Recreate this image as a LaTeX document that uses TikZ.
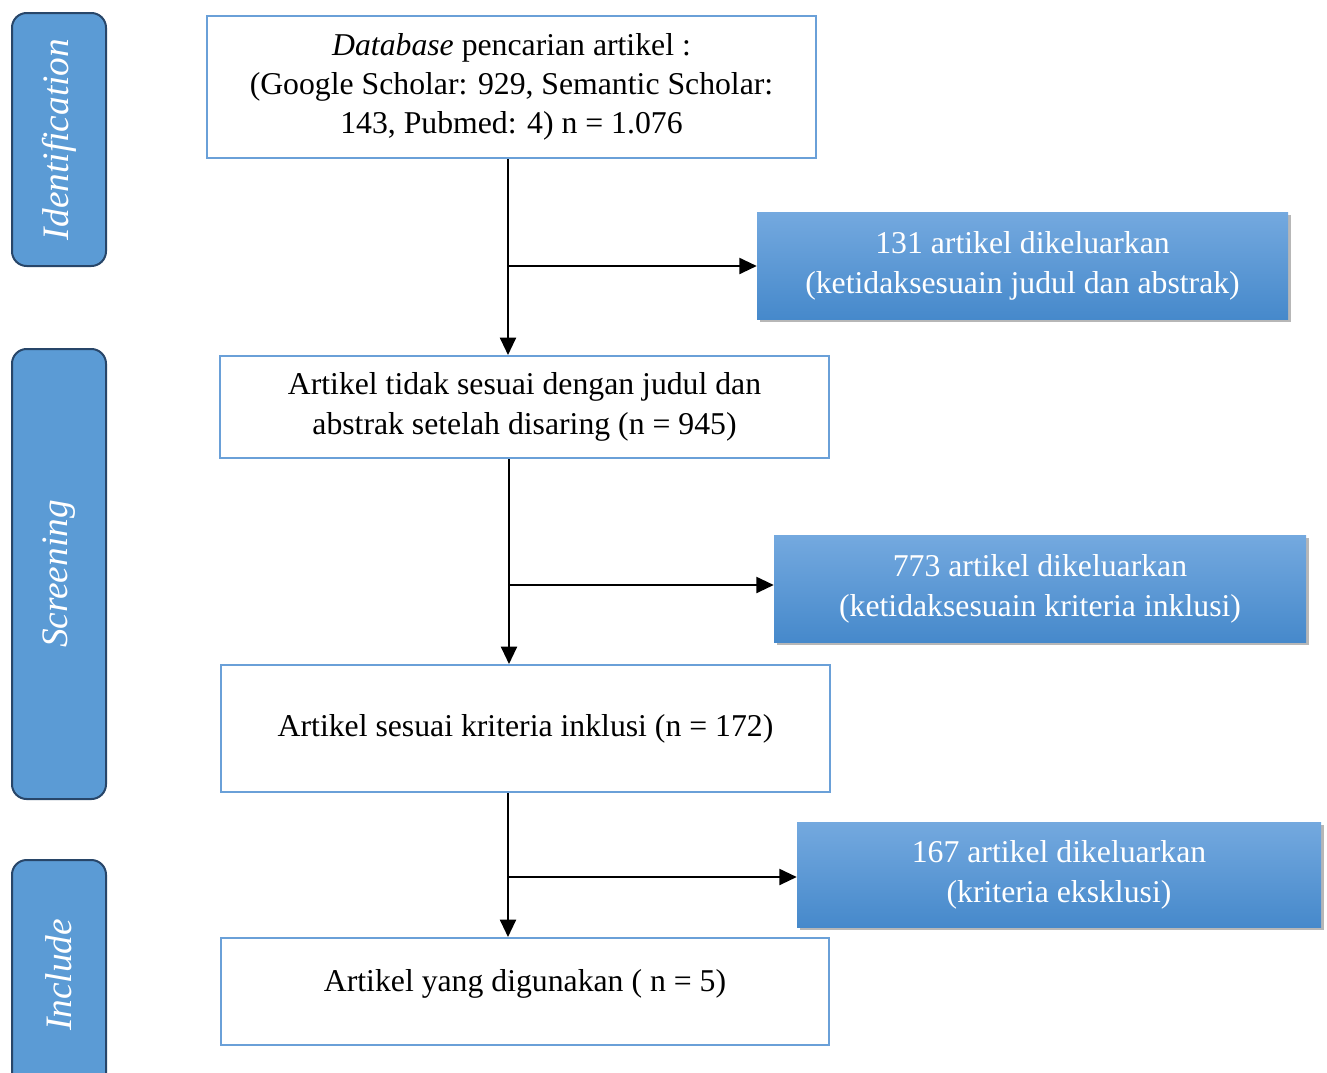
\documentclass[tikz,border=0pt]{standalone}
\usepackage{fontspec}
\setmainfont{Liberation Serif}
\usetikzlibrary{arrows.meta,shadows}
\definecolor{boxline}{RGB}{106,160,216}
\definecolor{sidefill}{RGB}{91,155,213}
\definecolor{sideline}{RGB}{40,70,105}
\definecolor{gradtop}{RGB}{116,169,223}
\definecolor{gradbot}{RGB}{70,137,203}
\tikzset{
  whitebox/.style={draw=boxline, line width=1.5pt, fill=white, align=center,
    font=\fontsize{23.8}{29.5}\selectfont, inner sep=0pt},
  bluebox/.style={top color=gradtop, bottom color=gradbot, draw=none, align=center,
    text=white, font=\fontsize{23.8}{30}\selectfont, inner sep=0pt,
    drop shadow={shadow xshift=2pt, shadow yshift=-2.5pt, opacity=0.4, fill=black!70}},
  sidebox/.style={draw=sideline, line width=1.5pt, fill=sidefill, rounded corners=11pt,
    rotate=90, text=white, font=\fontsize{28}{32}\selectfont\itshape, inner sep=0pt},
  arr/.style={line width=1.5pt, -{Triangle[length=13pt,width=12pt]}},
}
\begin{document}
\begin{tikzpicture}[x=0.75pt,y=-0.75pt]
\useasboundingbox (0,0) rectangle (1327,1072);
\clip (0,0) rectangle (1327,1072);

% side labels
\node[sidebox, minimum width=189.75pt, minimum height=70.5pt] (sid) at (59,139.5) {Identification};
\node[sidebox, minimum width=337.5pt, minimum height=70.5pt] (sscr) at (59,574) {Screening};
\node[sidebox, minimum width=172.5pt, minimum height=70.5pt] (sinc) at (59,975) {Include};

% main boxes
\node[whitebox, minimum width=456.75pt, minimum height=106.5pt] (b1) at (511.5,87)
  {\textit{Database} pencarian artikel :\\(Google Scholar: 929, Semantic Scholar:\\143, Pubmed: 4) n = 1.076};
\node[whitebox, minimum width=456.75pt, minimum height=76.5pt] (b2) at (524.5,407)
  {Artikel tidak sesuai dengan judul dan\\abstrak setelah disaring (n = 945)};
\node[whitebox, minimum width=456.75pt, minimum height=95.25pt] (b3) at (525.5,728.5)
  {Artikel sesuai kriteria inklusi (n = 172)};
\node[whitebox, minimum width=456pt, minimum height=80.25pt] (b4) at (525,991.5)
  {\raisebox{16pt}{Artikel yang digunakan ( n = 5)}};

% excluded boxes
\node[bluebox, minimum width=398.25pt, minimum height=80.25pt] (ea) at (1022.5,265.5)
  {131 artikel dikeluarkan\\(ketidaksesuain judul dan abstrak)};
\node[bluebox, minimum width=399pt, minimum height=80.25pt] (eb) at (1040,588.5)
  {773 artikel dikeluarkan\\(ketidaksesuain kriteria inklusi)};
\node[bluebox, minimum width=393pt, minimum height=78.75pt] (ec) at (1059,874.5)
  {167 artikel dikeluarkan\\(kriteria eksklusi)};

% connectors
\coordinate (j1) at (508,266);
\coordinate (j2) at (509,585);
\coordinate (j3) at (508,877);
\draw[arr] (b1.south -| j1) -- (j1 |- b2.north);
\draw[arr] (j1) -- (ea.west |- j1);
\draw[arr] (b2.south -| j2) -- (j2 |- b3.north);
\draw[arr] (j2) -- (eb.west |- j2);
\draw[arr] (b3.south -| j3) -- (j3 |- b4.north);
\draw[arr] (j3) -- (ec.west |- j3);
\end{tikzpicture}
\end{document}
